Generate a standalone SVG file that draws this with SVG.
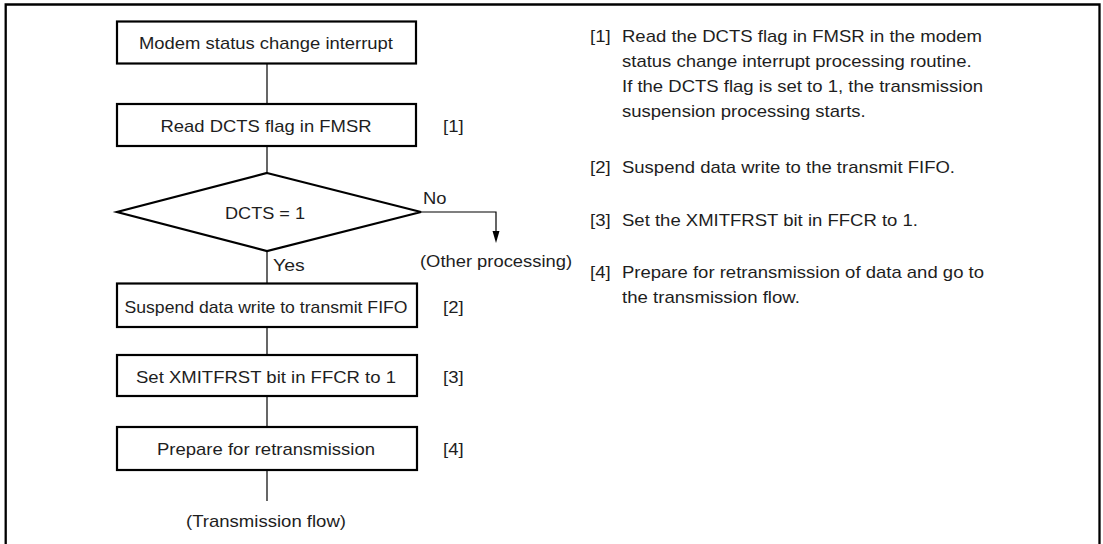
<svg xmlns="http://www.w3.org/2000/svg" width="1103" height="544" viewBox="0 0 1103 544">
<style>
text{font-family:"Liberation Sans",Arial,Helvetica,sans-serif;font-size:17px;fill:#1e1e1e}
.box{fill:#fff;stroke:#000;stroke-width:2.2}
.ln{fill:none;stroke:#000;stroke-width:1.2}
.mid{text-anchor:middle}
</style>
<defs>
<marker id="arr" markerWidth="8" markerHeight="13" refX="4" refY="12" orient="auto" markerUnits="userSpaceOnUse">
<path d="M0.5,0 L7.5,0 L4,12 Z" fill="#000"/>
</marker>
</defs>
<path d="M5.7,544 V4.5 H1099.5 V544" fill="none" stroke="#000" stroke-width="2.3"/>
<g id="connectors">
<line class="ln" x1="267" y1="63" x2="267" y2="104"/>
<line class="ln" x1="267" y1="146" x2="267" y2="173"/>
<line class="ln" x1="267" y1="251" x2="267" y2="283"/>
<line class="ln" x1="267" y1="327" x2="267" y2="355"/>
<line class="ln" x1="267" y1="396" x2="267" y2="427"/>
<line class="ln" x1="267" y1="470" x2="267" y2="501"/>
<path class="ln" d="M421,212 H496 V231"/>
<path d="M492.5,231 L499.5,231 L496,243 Z" fill="#000"/>
<text x="423" y="204" textLength="23.5" lengthAdjust="spacingAndGlyphs">No</text>
<text x="273" y="270.5" textLength="31.7" lengthAdjust="spacingAndGlyphs">Yes</text>
<text x="420" y="267" textLength="152" lengthAdjust="spacingAndGlyphs">(Other processing)</text>
<text class="mid" x="266" y="527" textLength="160" lengthAdjust="spacingAndGlyphs">(Transmission flow)</text>
</g>
<g id="n1">
<rect class="box" x="117" y="21.5" width="299" height="42"/>
<text class="mid" x="266" y="49" textLength="254" lengthAdjust="spacingAndGlyphs">Modem status change interrupt</text>
</g>
<g id="n2">
<rect class="box" x="117" y="104" width="299" height="42"/>
<text class="mid" x="266" y="132" textLength="211" lengthAdjust="spacingAndGlyphs">Read DCTS flag in FMSR</text>
<text x="443" y="132" textLength="20.6" lengthAdjust="spacingAndGlyphs">[1]</text>
</g>
<g id="n3">
<polygon class="box" points="267,173 421,212 267,251 117,212"/>
<text class="mid" x="265" y="219" textLength="80" lengthAdjust="spacingAndGlyphs">DCTS = 1</text>
</g>
<g id="n4">
<rect class="box" x="117" y="283.5" width="300" height="43.5"/>
<text class="mid" x="266" y="312.5" textLength="283" lengthAdjust="spacingAndGlyphs">Suspend data write to transmit FIFO</text>
<text x="443" y="313" textLength="20.6" lengthAdjust="spacingAndGlyphs">[2]</text>
</g>
<g id="n5">
<rect class="box" x="117" y="355" width="300" height="41"/>
<text class="mid" x="266" y="383" textLength="260" lengthAdjust="spacingAndGlyphs">Set XMITFRST bit in FFCR to 1</text>
<text x="443" y="383" textLength="20.6" lengthAdjust="spacingAndGlyphs">[3]</text>
</g>
<g id="n6">
<rect class="box" x="117" y="427" width="300" height="43"/>
<text class="mid" x="266" y="454.5" textLength="218" lengthAdjust="spacingAndGlyphs">Prepare for retransmission</text>
<text x="443" y="455" textLength="20.6" lengthAdjust="spacingAndGlyphs">[4]</text>
</g>
<g id="notes">
<text x="590" y="42" textLength="20.6" lengthAdjust="spacingAndGlyphs">[1]</text>
<text x="622" y="42" textLength="360" lengthAdjust="spacingAndGlyphs">Read the DCTS flag in FMSR in the modem</text>
<text x="622" y="67" textLength="349.6" lengthAdjust="spacingAndGlyphs">status change interrupt processing routine.</text>
<text x="622" y="92" textLength="361" lengthAdjust="spacingAndGlyphs">If the DCTS flag is set to 1, the transmission</text>
<text x="622" y="117" textLength="243.7" lengthAdjust="spacingAndGlyphs">suspension processing starts.</text>
<text x="590" y="173" textLength="20.6" lengthAdjust="spacingAndGlyphs">[2]</text>
<text x="622" y="173" textLength="333" lengthAdjust="spacingAndGlyphs">Suspend data write to the transmit FIFO.</text>
<text x="590" y="226" textLength="20.6" lengthAdjust="spacingAndGlyphs">[3]</text>
<text x="622" y="226" textLength="296" lengthAdjust="spacingAndGlyphs">Set the XMITFRST bit in FFCR to 1.</text>
<text x="590" y="278" textLength="20.6" lengthAdjust="spacingAndGlyphs">[4]</text>
<text x="622" y="278" textLength="362" lengthAdjust="spacingAndGlyphs">Prepare for retransmission of data and go to</text>
<text x="622" y="303" textLength="177.9" lengthAdjust="spacingAndGlyphs">the transmission flow.</text>
</g>
</svg>
